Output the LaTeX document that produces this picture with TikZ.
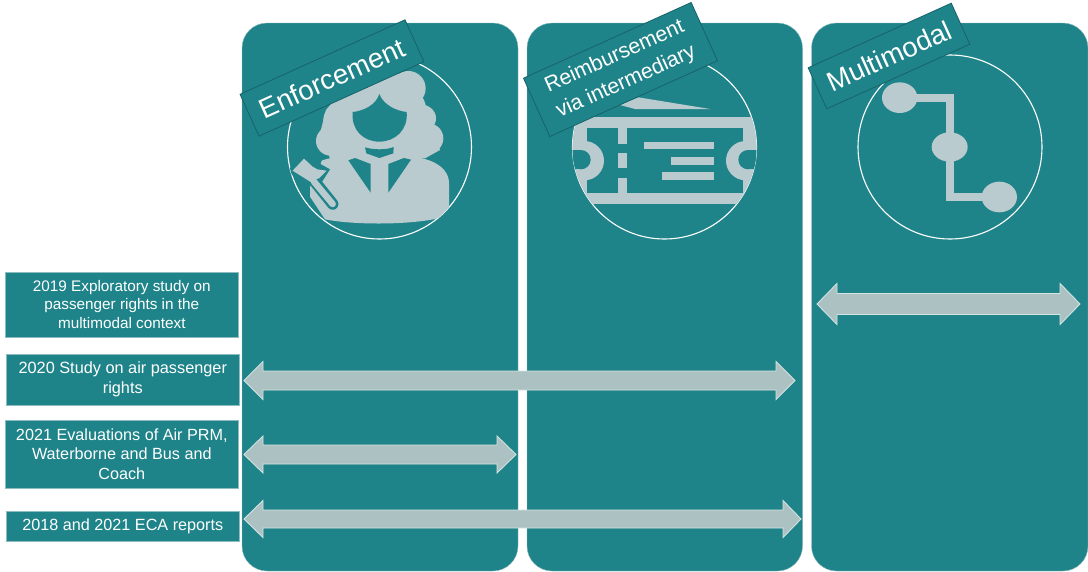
\documentclass[tikz,border=0pt]{standalone}
\usepackage{fontspec}
\setmainfont{Liberation Sans}
\definecolor{teal1}{HTML}{1F8489}
\definecolor{tealdark}{HTML}{17636A}
\definecolor{tealedge}{HTML}{8DBCC0}
\definecolor{icon}{HTML}{B9CBCF}
\definecolor{arrowfill}{HTML}{ABC1C2}
\definecolor{arrowedge}{HTML}{D5E3E3}
\newcommand{\DoubleArrow}[7]{% left, right, y, shaft half, head half, head len left, head len right
  \draw[blockarrow] (#1,#3) -- (#1+#6,#3-#5) -- (#1+#6,#3-#4) -- (#2-#7,#3-#4) -- (#2-#7,#3-#5)
    -- (#2,#3) -- (#2-#7,#3+#5) -- (#2-#7,#3+#4) -- (#1+#6,#3+#4) -- (#1+#6,#3+#5) -- cycle;}
\tikzset{
  panel/.style={fill=teal1,draw=tealedge,line width=0.4pt,rounded corners=25pt},
  ring/.style={circle,draw=white,line width=1.1pt,minimum size=184pt,inner sep=0pt},
  tag/.style={fill=teal1,draw=tealdark,line width=0.8pt,text=white,align=center,rotate=24.3,inner sep=0pt},
  study/.style={fill=teal1,draw=tealedge,line width=0.4pt,text=white,align=center,minimum width=232.5pt,inner sep=0pt},
  blockarrow/.style={fill=arrowfill,draw=arrowedge,line width=0.9pt,line join=miter},
}
\begin{document}
\begin{tikzpicture}[x=1pt,y=-1pt]
\useasboundingbox (0,0) rectangle (1088,571);
% panels
\draw[panel] (242,23) rectangle (518,571);
\draw[panel] (527,23) rectangle (802.5,571);
\draw[panel] (811.5,23) rectangle (1088,571);
% rings
\node[ring] (r1) at (379.5,147) {};
\node[ring] (r2) at (664.5,147) {};
\node[ring] (r3) at (950,147) {};
% judge
\begin{scope}
\clip (379.5,147) circle[radius=92];
\begin{scope}[shift={(240,10)},x=0.33333pt,y=-0.33333pt]
  \fill[icon] (420,260) circle[radius=90];
  \fill[icon] (505,235) circle[radius=52];
  \fill[icon] (548,325) circle[radius=40];
  \fill[icon] (565,385) circle[radius=45];
  \fill[icon] (272,393) circle[radius=44];
  \fill[icon] (298,330) circle[radius=48];
  \fill[icon] (350,265) circle[radius=50];
  \fill[icon] (340,210) -- (510,200) -- (552,270) -- (578,345) -- (600,420) -- (555,445)
     -- (270,445) -- (240,370) -- (258,300) -- (300,250) -- cycle;
  % body
  \fill[icon] (245,452) .. controls (275,440) and (320,438) .. (345,440) -- (500,440)
     .. controls (560,440) and (627,465) .. (627,520) -- (627,600) -- (590,626)
     .. controls (500,645) and (340,645) .. (255,628) -- (210,560) -- (210,530) -- (230,500) -- cycle;
  % face
  \fill[teal1] (418,252) .. controls (430,285) and (470,303) .. (500,306)
     .. controls (505,360) and (465,395) .. (418,395)
     .. controls (370,395) and (333,360) .. (338,306)
     .. controls (370,303) and (408,285) .. (418,252) -- cycle;
  % collar
  \fill[teal1] (375,412) .. controls (400,420) and (440,420) .. (461,411) -- (460,430) -- (418,444) -- (379,430) -- cycle;
  % lapels
  \fill[teal1] (325,451) -- (345,444) -- (392,462) -- (392,548) -- cycle;
  \fill[teal1] (445,548) -- (445,462) -- (492,444) -- (513,449) -- cycle;
  % gavel
  \fill[teal1] (140,485) -- (188,432) -- (270,478) -- (240,525) -- (205,525) -- cycle;
  \draw[teal1,line width=11.5pt,line cap=round] (222,512) -- (278,582);
  \draw[icon,line width=6.5pt,line cap=round] (222,515) -- (278,582);
  \fill[icon] (158,482) -- (192,446) -- (218,470) -- (232,478) -- (260,482) -- (238,504) -- (212,516) -- cycle;
\end{scope}
\end{scope}
% ticket
\begin{scope}
\clip (664.5,147) circle[radius=92];
\begin{scope}[shift={(525,10)},x=0.33333pt,y=-0.33333pt]
  \fill[icon] (100,320) rectangle (700,355);
  \fill[icon] (100,550) rectangle (700,583);
  \fill[icon] (100,355) rectangle (185,550);
  \fill[icon] (655,355) rectangle (700,550);
  \fill[icon] (178,452) circle[radius=59];
  \fill[icon] (662,452) circle[radius=59];
  \fill[teal1] (168,449) circle[radius=29];
  \fill[teal1] (120,420) rectangle (168,478);
  \fill[teal1] (669,449) circle[radius=29];
  \fill[teal1] (669,420) rectangle (720,478);
  \fill[icon] (278,355) rectangle (305,403);
  \fill[icon] (278,428) rectangle (305,475);
  \fill[icon] (278,503) rectangle (305,550);
  \fill[icon] (358,395) rectangle (567,418);
  \fill[icon] (438,441) rectangle (567,464);
  \fill[icon] (412,487) rectangle (567,510);
  \fill[icon] (285,285) -- (340,262) -- (555,297) -- (330,297) -- cycle;
\end{scope}
\end{scope}
% multimodal icon
\begin{scope}[shift={(808,0)},x=0.33333pt,y=-0.33333pt]
  \draw[icon,line width=8pt,line join=miter] (320,293) -- (425,293) -- (425,591) -- (525,591);
  \fill[icon] (275,293) ellipse[x radius=53,y radius=46];
  \fill[icon] (425,441) ellipse[x radius=54,y radius=44];
  \fill[icon] (574,591) ellipse[x radius=53,y radius=46];
\end{scope}
% tags
\node[tag,minimum width=181pt,minimum height=46pt,font=\fontsize{27.5}{30}\selectfont] (t1) at (332,78) {Enforcement};
\node[tag,minimum width=184pt,minimum height=64pt,font=\fontsize{21.3}{27.5}\selectfont] (t2) at (620.5,69.5) {Reimbursement\\via intermediary};
\node[tag,minimum width=157pt,minimum height=45pt,font=\fontsize{27.5}{30}\selectfont] (t3) at (889,56) {Multimodal};
% study boxes
\node[study,minimum height=65pt,font=\fontsize{15.3}{18.5}\selectfont] (s1) at (121.8,304.5) {2019 Exploratory study on\\passenger rights in the\\multimodal context};
\node[study,minimum height=51pt,font=\fontsize{16.3}{19.6}\selectfont] (s2) at (122.8,379.5) {2020 Study on air passenger\\rights};
\node[study,minimum height=68pt,font=\fontsize{16.2}{19.6}\selectfont] (s3) at (121.8,454) {2021 Evaluations of Air PRM,\\Waterborne and Bus and\\Coach};
\node[study,minimum height=30pt,font=\fontsize{16.2}{19.6}\selectfont] (s4) at (122.8,526) {2018 and 2021 ECA reports};
% arrows
\DoubleArrow{817}{1080}{304}{10.5}{20.5}{20}{20}
\DoubleArrow{244}{795}{380.5}{9.5}{19}{19}{19}
\DoubleArrow{244}{516}{454.5}{9.5}{18.5}{19}{19}
\DoubleArrow{244}{801}{519}{9}{18.5}{19}{18}
\end{tikzpicture}
\end{document}
